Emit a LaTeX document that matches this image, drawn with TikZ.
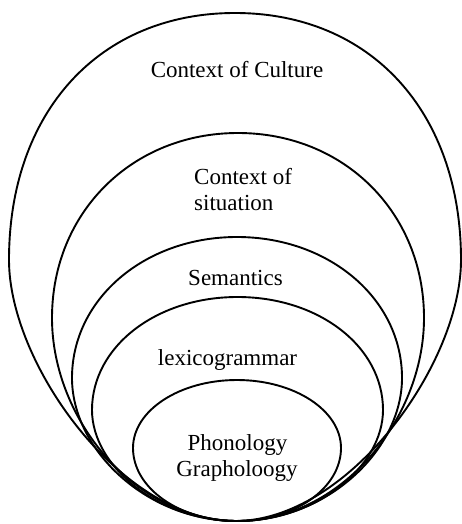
\documentclass[tikz,border=0pt]{standalone}
\usepackage{fontspec}
\setmainfont{Liberation Serif}
\newcommand{\eggring}[8]{%
  % #1 cx, #2 top, #3 widest y, #4 bottom, #5 rx, #6 upper factor, #7 lower vertical factor, #8 lower horizontal factor
  \draw[ring] (#1,#2)
    .. controls ({#1-#6*#5},#2) and ({#1-#5},{#3-#6*(#3-#2)}) .. ({#1-#5},#3)
    .. controls ({#1-#5},{#3+#7*(#4-#3)}) and ({#1-#8*#5},#4) .. (#1,#4)
    .. controls ({#1+#8*#5},#4) and ({#1+#5},{#3+#7*(#4-#3)}) .. ({#1+#5},#3)
    .. controls ({#1+#5},{#3-#6*(#3-#2)}) and ({#1+#6*#5},#2) .. (#1,#2) -- cycle;}
\begin{document}
\begin{tikzpicture}[x=1pt,y=-1pt,
  ring/.style={draw=black,line width=1.9pt},
  label/.style={inner sep=0pt,font=\fontsize{23}{26}\selectfont}]
\useasboundingbox (0,0) rectangle (462,524);
\eggring{235}{13}{260}{521}{226}{0.6}{0.4}{0.5}
\eggring{238}{133}{318}{521}{186}{0.57}{0.5}{0.55}
\eggring{237}{237}{378}{521}{165}{0.56}{0.5}{0.55}
\eggring{237.5}{297}{410}{521}{145.5}{0.56}{0.5}{0.55}
\eggring{237}{380}{448}{521}{104}{0.552}{0.552}{0.552}
\node[label,anchor=base] (culture) at (237,78) {Context of Culture};
\node[label,anchor=base west] (sit1) at (194,184) {Context of};
\node[label,anchor=base west] (sit2) at (194,210) {situation};
\node[label,anchor=base] (sem) at (235.5,285) {Semantics};
\node[label,anchor=base] (lex) at (227.5,365) {lexicogrammar};
\node[label,anchor=base] (phon) at (237.5,450) {Phonology};
\node[label,anchor=base] (graph) at (237,476) {Grapholoogy};
\end{tikzpicture}
\end{document}
